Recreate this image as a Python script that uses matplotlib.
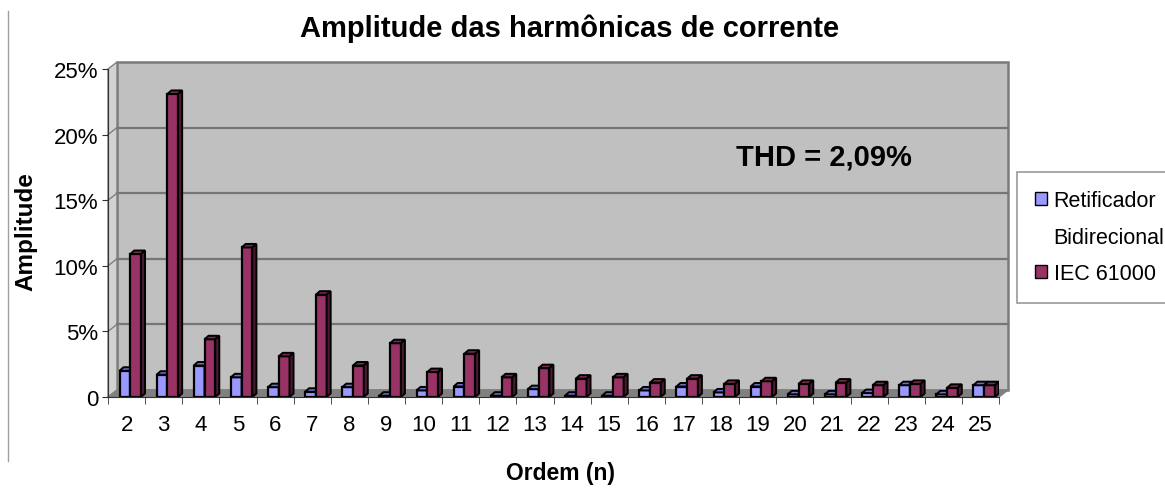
import matplotlib
matplotlib.use("Agg")
import matplotlib.pyplot as plt
from matplotlib.patches import Polygon, Patch
import numpy as np

plt.rcParams['font.family'] = ['Liberation Sans', 'DejaVu Sans']

##### data #####
ordens = [str(n) for n in range(2, 26)]
retificador = [2.0, 1.7, 2.4, 1.5, 0.75, 0.4, 0.75, 0.1, 0.5, 0.8, 0.1, 0.6,
               0.1, 0.1, 0.5, 0.8, 0.35, 0.8, 0.2, 0.2, 0.3, 0.9, 0.2, 0.9]
iec61000 = [10.9, 23.1, 4.4, 11.4, 3.1, 7.8, 2.4, 4.1, 1.9, 3.3, 1.5, 2.2,
            1.4, 1.5, 1.1, 1.4, 1.0, 1.2, 1.0, 1.1, 0.9, 1.0, 0.7, 0.9]
yticks = [0, 5, 10, 15, 20, 25]
yticklabels = ["0", "5%", "10%", "15%", "20%", "25%"]

W, H = 1165, 489
fig = plt.figure(figsize=(W / 100, H / 100), dpi=100)
ax = fig.add_axes([108 / W, 91 / H, 891 / W, 328 / H])
ax.set_facecolor("none")

xmin, xmax = -0.5, len(ordens) - 0.5
ax.set_xlim(xmin, xmax)
ax.set_ylim(0, 25)

# pixel -> data conversion for the fake 3D depth
pxx = 891 / (xmax - xmin)
pxy = 328 / 25
wdx, wdy = 9 / pxx, 7 / pxy      # walls
bdx, bdy = 4 / pxx, 3.5 / pxy    # bars

# walls and floor
back = Polygon([(xmin + wdx, wdy), (xmax + wdx, wdy), (xmax + wdx, 25 + wdy), (xmin + wdx, 25 + wdy)],
               closed=True, facecolor="#c0c0c0", edgecolor="#7a7a7a", lw=1.8, clip_on=False, zorder=0)
side = Polygon([(xmin, 0), (xmin + wdx, wdy), (xmin + wdx, 25 + wdy), (xmin, 25)],
               closed=True, facecolor="#d2d2d2", edgecolor="#808080", lw=1, clip_on=False, zorder=0)
floor = Polygon([(xmin, 0), (xmax, 0), (xmax + wdx, wdy), (xmin + wdx, wdy)],
                closed=True, facecolor="#808080", edgecolor="#808080", lw=1, clip_on=False, zorder=0.5)
for p in (back, side, floor):
    ax.add_patch(p)
for v in yticks[1:-1]:
    ax.plot([xmin + wdx, xmax + wdx], [v + wdy, v + wdy], color="#767676", lw=1.6, zorder=0.2, clip_on=False)
    ax.plot([xmin, xmin + wdx], [v, v + wdy], color="#808080", lw=1, zorder=0.2, clip_on=False)


def bars3d(x, h, w, front, top, right):
    ax.bar(x, h, w, align="edge", color=front, edgecolor="black", lw=1.6, zorder=2)
    for xi, hi in zip(x, h):
        ax.add_patch(Polygon([(xi, hi), (xi + w, hi), (xi + w + bdx, hi + bdy), (xi + bdx, hi + bdy)],
                             closed=True, facecolor=top, edgecolor="black", lw=1.4, zorder=2))
        ax.add_patch(Polygon([(xi + w, 0), (xi + w + bdx, bdy), (xi + w + bdx, hi + bdy), (xi + w, hi)],
                             closed=True, facecolor=right, edgecolor="black", lw=1.4, zorder=2))


pos = np.arange(len(ordens))
bw = 0.29
bars3d(pos - 0.5 + 0.31, retificador, bw, "#9999ff", "#6d6dcf", "#3d3d80")
bars3d(pos - 0.5 + 0.31 + bw, iec61000, bw, "#993366", "#7a2952", "#4d1a33")

# axes
for s in ("top", "right"):
    ax.spines[s].set_visible(False)
ax.spines["left"].set_color("#303030")
ax.spines["bottom"].set_color("#303030")
ax.set_yticks(yticks)
ax.set_yticklabels(yticklabels, fontsize=16)
ax.tick_params(axis="y", length=4, pad=3, color="#303030")
ax.set_xticks(pos)
ax.set_xticklabels(ordens, fontsize=16)
ax.set_xticks(np.arange(len(ordens) + 1) - 0.5, minor=True)
ax.tick_params(axis="x", which="major", length=0, pad=12)
ax.tick_params(axis="x", which="minor", length=5, color="#303030")

fig.text(570 / W, 1 - 29 / H, "Amplitude das harmônicas de corrente",
         ha="center", va="center", fontsize=21, fontweight="bold")
fig.text(824 / W, 1 - 158 / H, "THD = 2,09%", ha="center", va="center",
         fontsize=21, fontweight="bold")
fig.text(26 / W, 1 - 232 / H, "Amplitude", rotation=90, ha="center", va="center",
         fontsize=17.5, fontweight="bold")
fig.text(561 / W, 1 - 474 / H, "Ordem (n)", ha="center", va="center",
         fontsize=16.5, fontweight="bold")

handles = [Patch(facecolor="#9999ff", edgecolor="black"),
           Patch(facecolor="none", edgecolor="none"),
           Patch(facecolor="#993366", edgecolor="black")]
leg = fig.legend(handles, ["Retificador", "Bidirecional", "IEC 61000"],
                 loc="upper left", bbox_to_anchor=(1017 / W, 1 - 173 / H), borderaxespad=0,
                 fontsize=15.5, frameon=True, fancybox=False, edgecolor="#808080",
                 handlelength=0.55, handleheight=0.55, handletextpad=0.3,
                 labelspacing=0.72, borderpad=0.85)
leg.get_frame().set_linewidth(1.2)

# left border line of the chart area
fig.add_artist(plt.Line2D([8 / W, 8 / W], [1 - 462 / H, 1 - 12 / H], color="#a0a0a0", lw=1))

fig.savefig("out.png", dpi=100)
